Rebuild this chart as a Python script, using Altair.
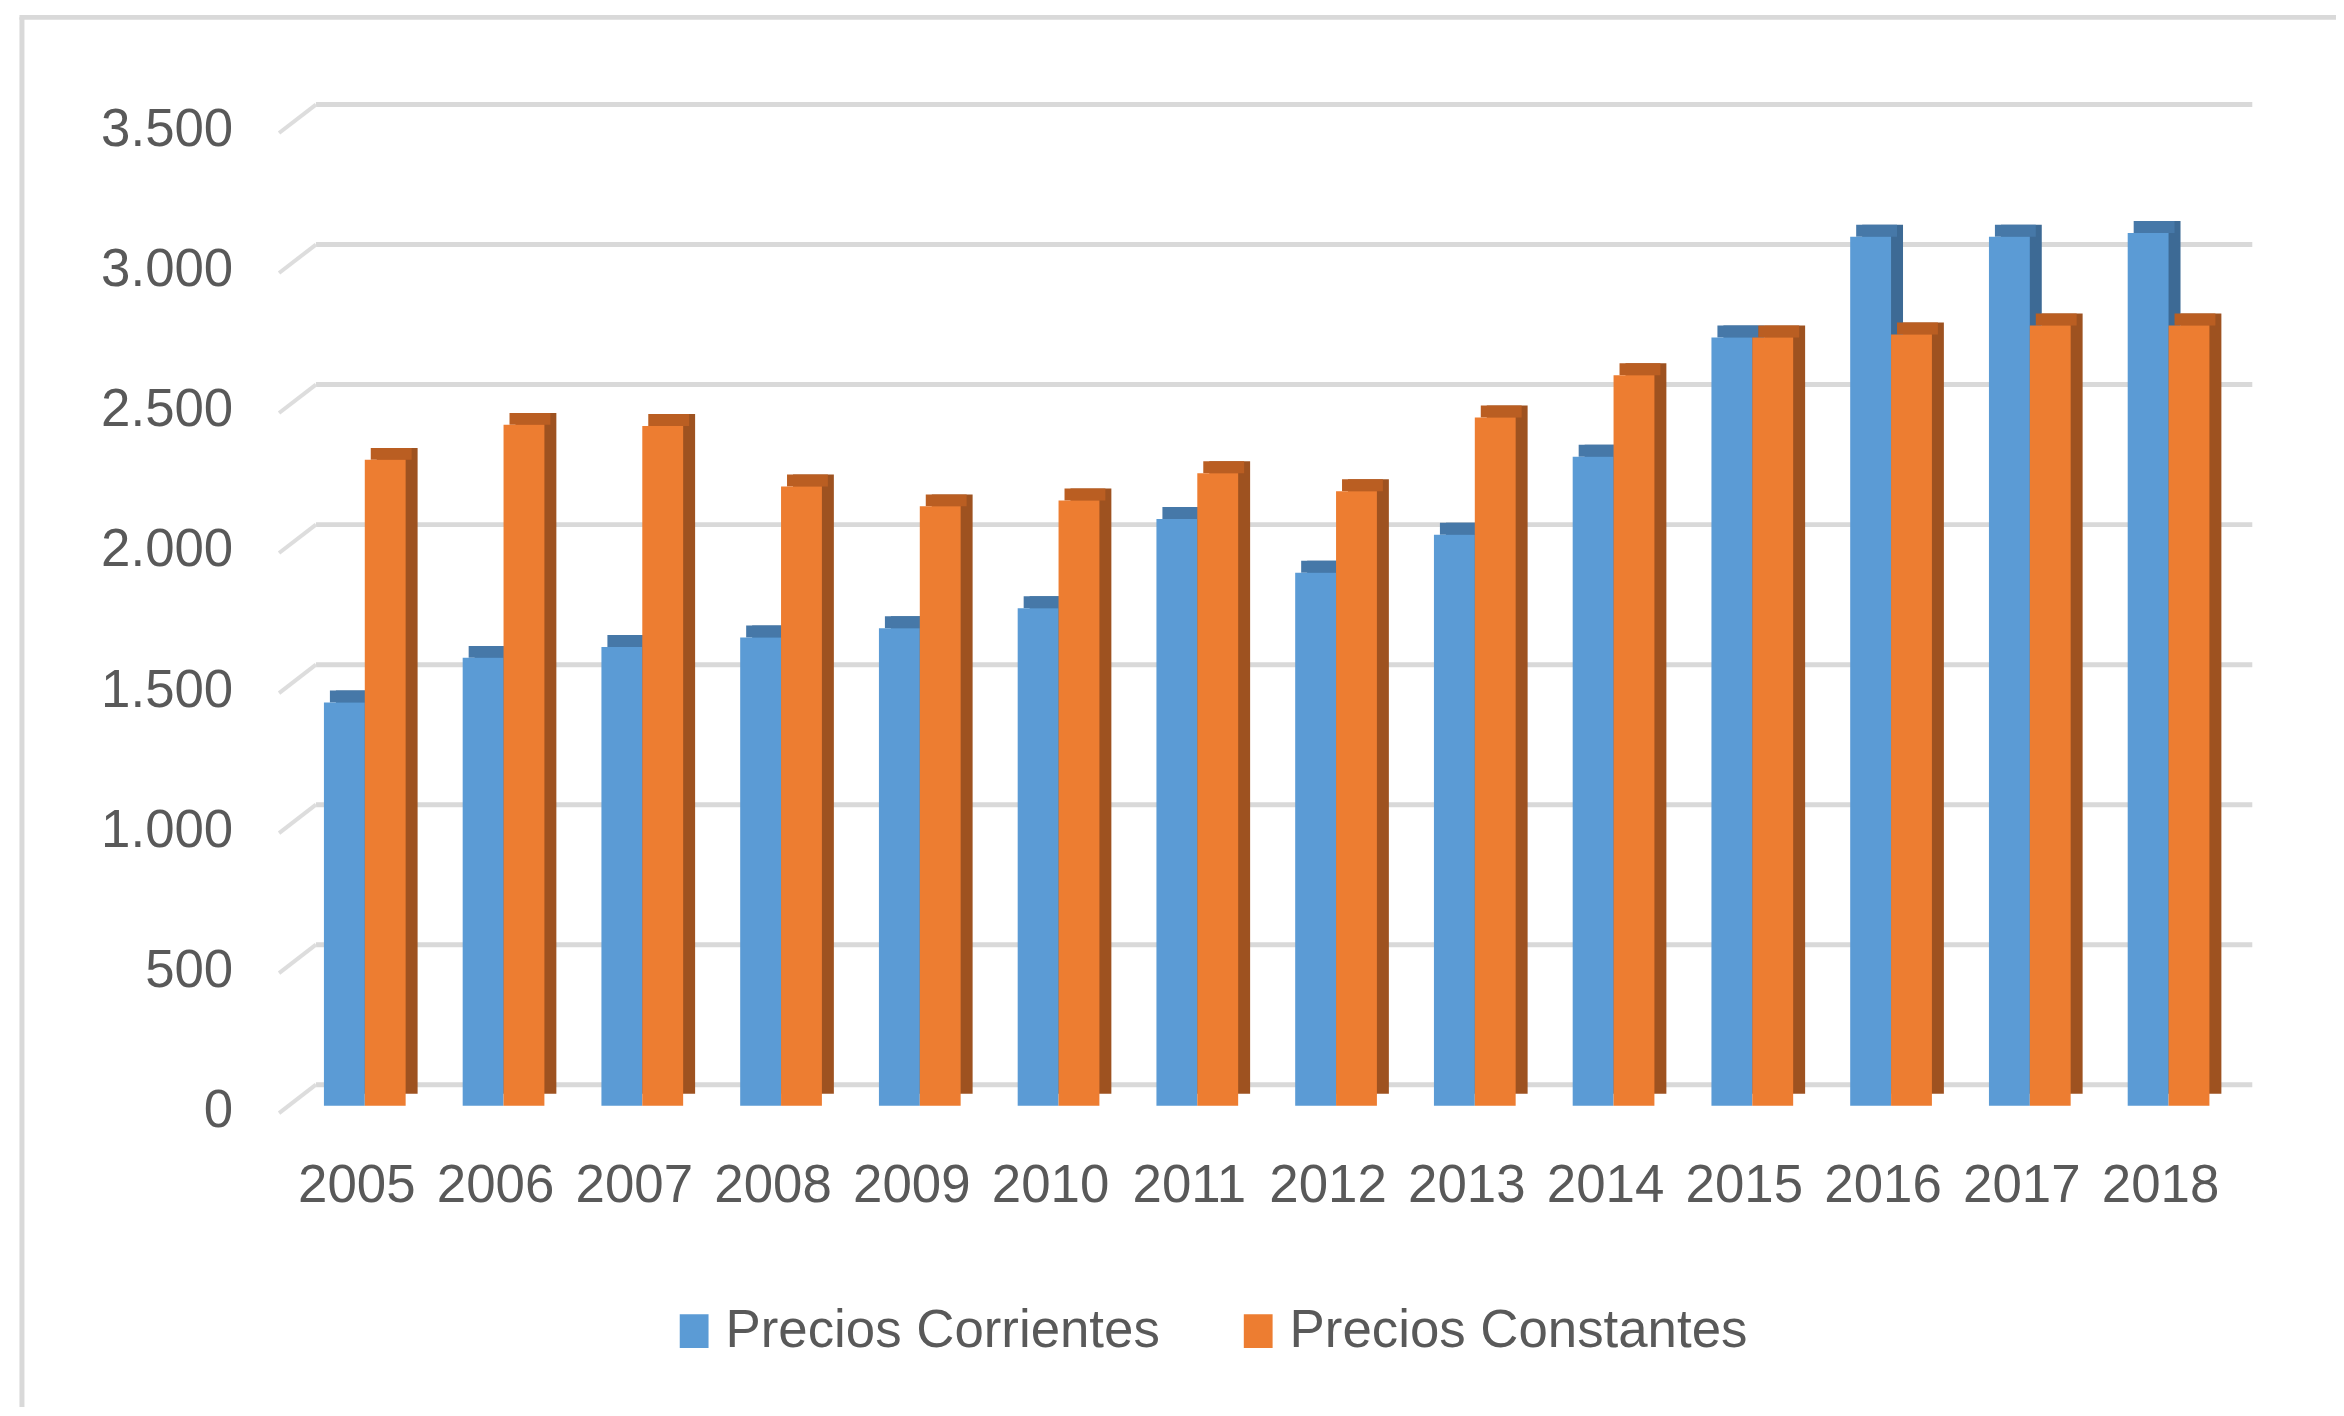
import altair as alt
import pandas as pd

# ---- data ----
years = ["2005", "2006", "2007", "2008", "2009", "2010", "2011",
         "2012", "2013", "2014", "2015", "2016", "2017", "2018"]
corrientes = [1440, 1599, 1638, 1672, 1705, 1776, 2095,
              1903, 2039, 2317, 2743, 3103, 3103, 3116]
constantes = [2306, 2431, 2427, 2211, 2140, 2161, 2258,
              2194, 2457, 2608, 2743, 2754, 2786, 2786]
series = ["Precios Corrientes", "Precios Constantes"]
y_ticks = [0, 500, 1000, 1500, 2000, 2500, 3000, 3500]
y_labels = ["0", "500", "1.000", "1.500", "2.000", "2.500", "3.000", "3.500"]

rows = []
for i, yr in enumerate(years):
    rows.append({"anio": yr, "serie": series[0], "valor": corrientes[i]})
    rows.append({"anio": yr, "serie": series[1], "valor": constantes[i]})
df = pd.DataFrame(rows)
grid_df = pd.DataFrame({"tick": y_ticks, "label": y_labels})
one_df = pd.DataFrame({"a": [0]})

# ---- styling ----
W, H = 1980, 983.5
FONT = "Liberation Sans"
TXT = "#595959"
BLUE, ORANGE = "#5B9BD5", "#ED7D31"
BLUE_TOP, BLUE_SIDE = "#4678A8", "#3D6A95"
ORANGE_TOP, ORANGE_SIDE = "#BA5E22", "#9E5220"
GRID = "#D9D9D9"
BW = 41

yscale = alt.Scale(domain=[0, 3500], nice=False, zero=True)
xscale = alt.Scale(domain=years, range=[16.4, 1965.6], paddingInner=0, paddingOuter=0)

xaxis = alt.Axis(title=None, domain=False, ticks=False, grid=False,
                 labelAngle=0, labelOverlap=False, labelPadding=54, labelOffset=-8,
                 labelFont=FONT, labelFontSize=53, labelColor=TXT)

legend = alt.Legend(orient="none", legendX=390, legendY=1183, direction="horizontal",
                    title=None, symbolType="M-0.85,-1H0.85V1H-0.85Z", symbolSize=1156,
                    symbolStrokeWidth=0, symbolOpacity=1, labelFont=FONT,
                    labelFontSize=53, labelColor=TXT, labelOffset=5,
                    columnPadding=72, labelLimit=1000)

# ---- frame and grid ----
frame_left = alt.Chart(one_df).mark_rule(color=GRID, strokeWidth=5).encode(
    x=alt.value(-258), y=alt.value(-108.5), y2=alt.value(1420))
frame_top = alt.Chart(one_df).mark_rule(color=GRID, strokeWidth=5).encode(
    x=alt.value(-260.5), x2=alt.value(2400), y=alt.value(-108.5))

grid = alt.Chart(grid_df).mark_rule(color=GRID, strokeWidth=5, yOffset=-21).encode(
    y=alt.Y("tick:Q", scale=yscale, axis=None),
    x=alt.value(37), x2=alt.value(W))
diag = alt.Chart(grid_df).mark_rule(color="#DDDDDD", strokeWidth=4,
                                    yOffset=7.5, y2Offset=-21).encode(
    y=alt.Y("tick:Q", scale=yscale, axis=None),
    y2=alt.Y2("tick"),
    x=alt.value(0), x2=alt.value(37))
ylab = alt.Chart(grid_df).mark_text(align="right", baseline="middle", font=FONT,
                                    fontSize=53, color=TXT, dy=5).encode(
    y=alt.Y("tick:Q", scale=yscale, axis=None),
    x=alt.value(-46), text="label:N")


def xenc():
    return alt.X("anio:O", scale=xscale, axis=xaxis)


def side(serie, color, dx):
    return alt.Chart(df).transform_filter(alt.datum.serie == serie).mark_bar(
        size=BW, xOffset=dx + 12, yOffset=-12, y2Offset=-12, color=color).encode(
        x=xenc(), y=alt.Y("valor:Q", scale=yscale, axis=None))


def top(serie, color, dx):
    return alt.Chart(df).transform_filter(alt.datum.serie == serie).mark_bar(
        size=BW, xOffset=dx + 6, yOffset=-12, y2Offset=0, color=color).encode(
        x=xenc(), y=alt.Y("valor:Q", scale=yscale, axis=None), y2=alt.Y2("valor"))


def front(serie, dx):
    return alt.Chart(df).transform_filter(alt.datum.serie == serie).mark_bar(
        size=BW, xOffset=dx).encode(
        x=xenc(), y=alt.Y("valor:Q", scale=yscale, axis=None),
        color=alt.Color("serie:N", scale=alt.Scale(domain=series, range=[BLUE, ORANGE]),
                        legend=legend))


chart = alt.layer(
    frame_left, frame_top, grid, diag, ylab,
    side(series[0], BLUE_SIDE, -20.5), side(series[1], ORANGE_SIDE, 20.5),
    top(series[0], BLUE_TOP, -20.5), top(series[1], ORANGE_TOP, 20.5),
    front(series[0], -20.5), front(series[1], 20.5),
).properties(
    width=W, height=H,
    autosize=alt.AutoSizeParams(type="none"),
    padding={"left": 272, "top": 115.5, "right": 84, "bottom": 300},
    background="white",
).configure_view(stroke=None)

chart.save("out.html", embed_options={"renderer": "svg", "actions": False})
